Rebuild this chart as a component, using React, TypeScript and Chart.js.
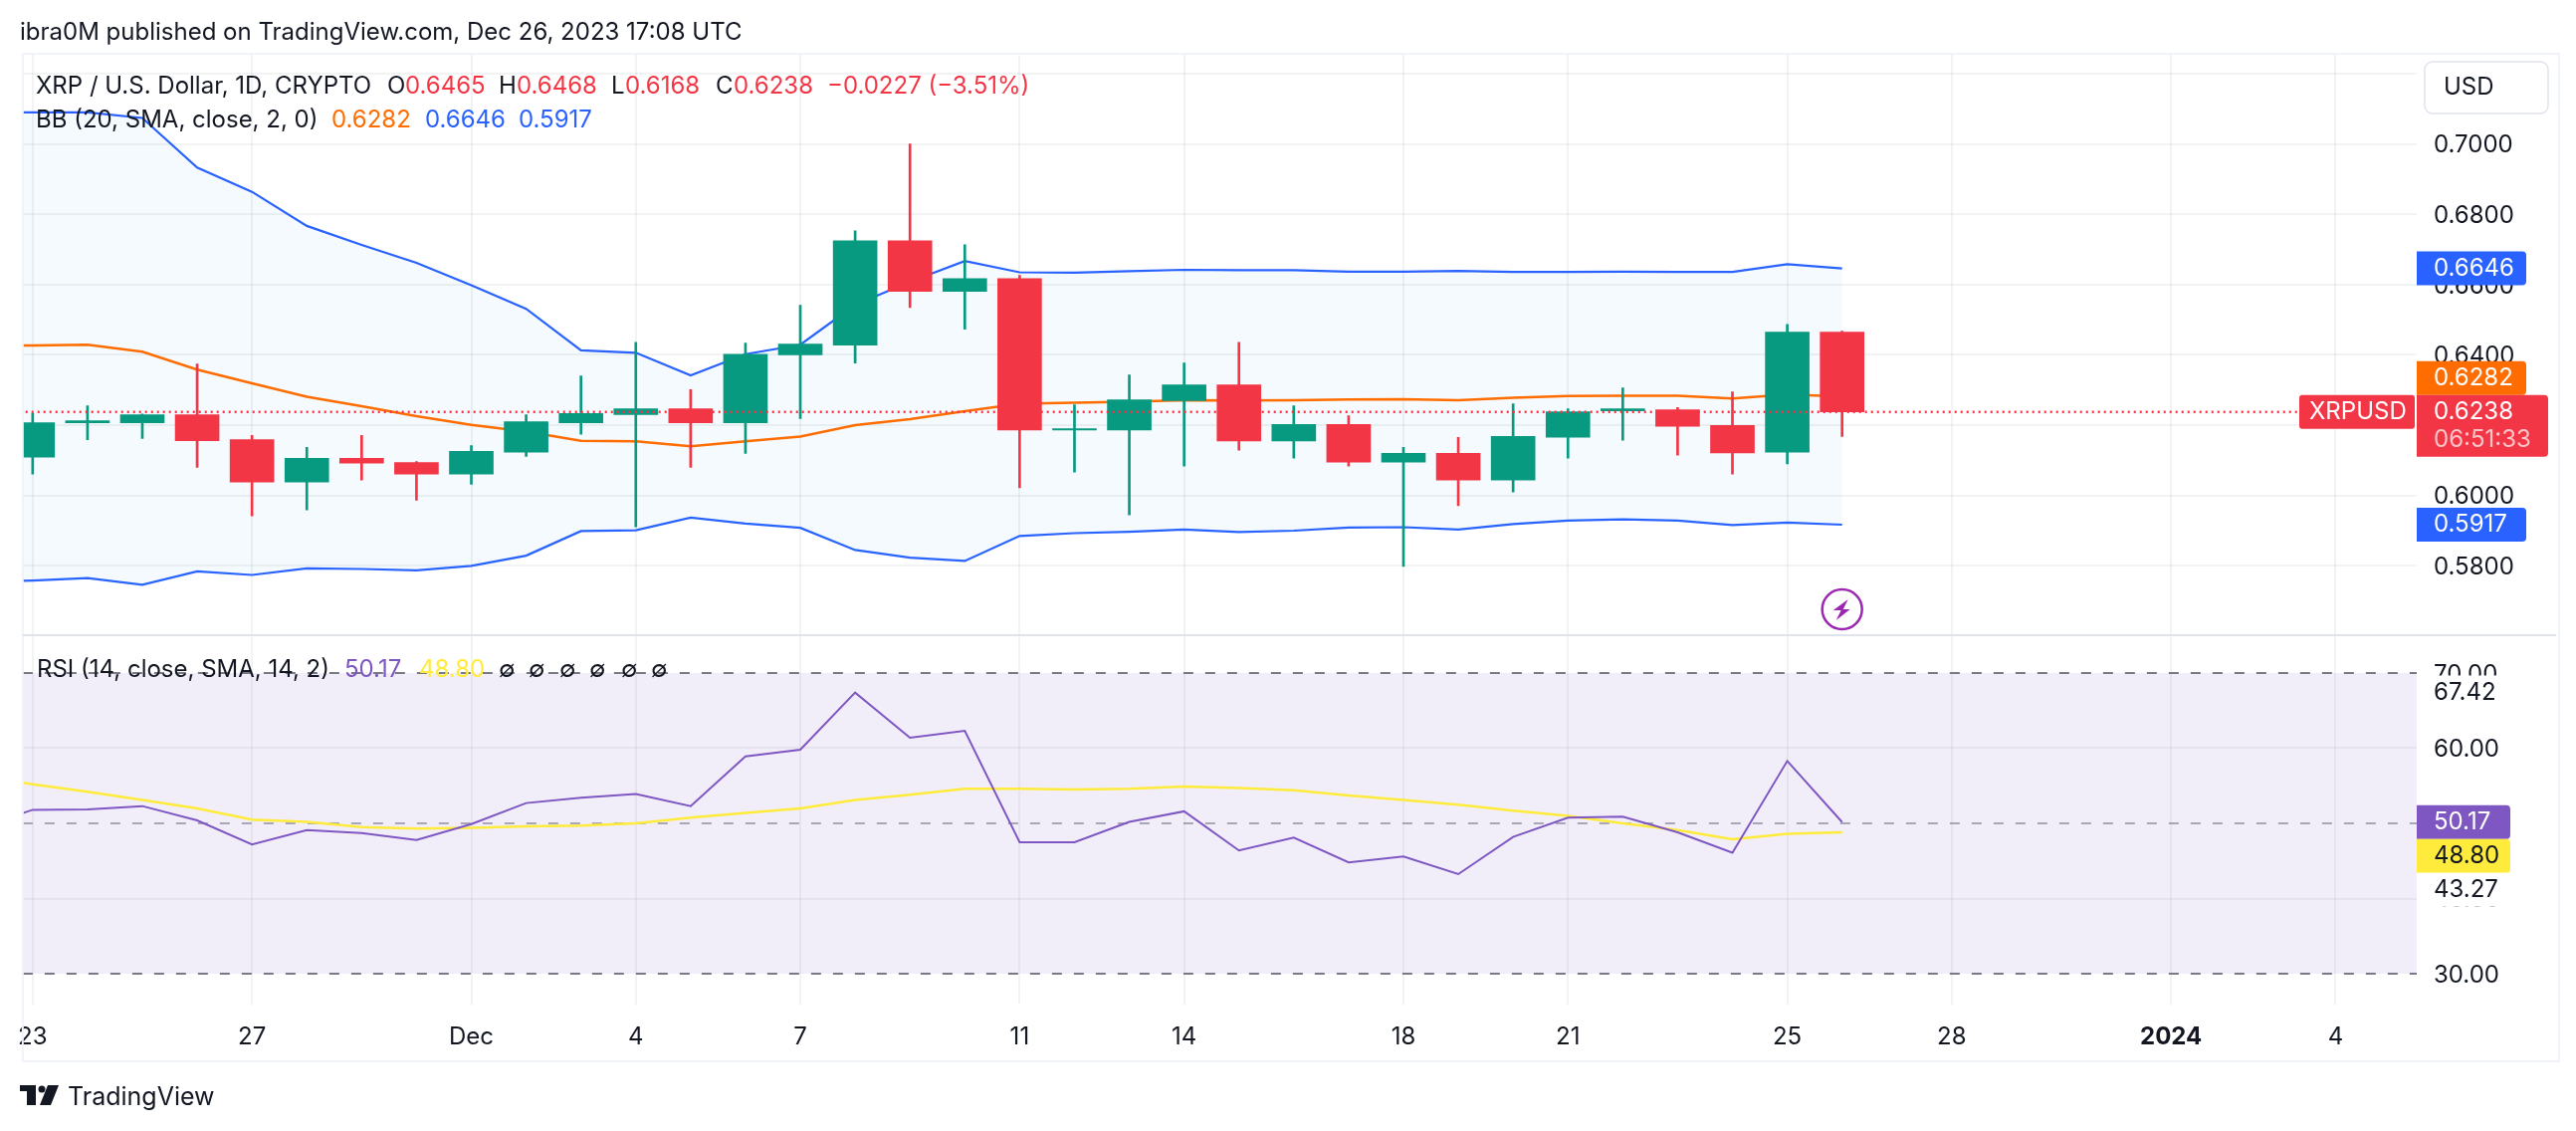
import React, { useEffect, useRef } from "react";
import { Chart, registerables } from "chart.js";

Chart.register(...registerables);

// ---- data ----
const candleDays = [0,1,2,3,4,5,6,7,8,9,10,11,12,13,14,15,16,17,18,19,20,21,22,23,24,25,26,27,28,29,30,31,32,33];
const opens  = [.6109,.6207,.6207,.6230,.6159,.6038,.6106,.6094,.6061,.6123,.6207,.6230,.6247,.6207,.6400,.6428,.6725,.6581,.6617,.6186,.6186,.6270,.6315,.6155,.6202,.6095,.6120,.6044,.6166,.6241,.6244,.6199,.6123,.6465];
const highs  = [.6234,.6255,.6232,.6374,.6171,.6137,.6171,.6097,.6142,.6230,.6340,.6436,.6301,.6434,.6541,.6753,.7000,.6713,.6626,.6258,.6343,.6377,.6436,.6255,.6227,.6137,.6165,.6261,.6247,.6306,.6250,.6295,.6487,.6468];
const lows   = [.6061,.6159,.6162,.6080,.5942,.5959,.6044,.5987,.6032,.6111,.6174,.5911,.6080,.6120,.6219,.6377,.6535,.6473,.6022,.6067,.5945,.6084,.6129,.6106,.6084,.5798,.5971,.6010,.6106,.6157,.6115,.6061,.6090,.6168];
const closes = [.6207,.6213,.6230,.6156,.6038,.6106,.6092,.6061,.6126,.6210,.6233,.6247,.6207,.6402,.6431,.6725,.6581,.6617,.6186,.6190,.6272,.6315,.6155,.6202,.6095,.6120,.6044,.6168,.6238,.6247,.6197,.6121,.6465,.6238];

const lineDays = [-1,...candleDays];
const bbUpper = [.7090,.7090,.7090,.7074,.6933,.6864,.6767,.6713,.6662,.6598,.6531,.6413,.6406,.6342,.6402,.6429,.6542,.6608,.6667,.6635,.6634,.6638,.6642,.6641,.6641,.6637,.6637,.6639,.6636,.6636,.6637,.6636,.6636,.6658,.6646];
const bbBasis = [.6425,.6427,.6429,.6409,.6358,.6319,.6281,.6254,.6226,.6201,.6182,.6156,.6154,.6140,.6154,.6168,.6200,.6217,.6240,.6261,.6264,.6267,.6271,.6270,.6271,.6273,.6274,.6271,.6278,.6283,.6284,.6284,.6276,.6287,.6282];
const bbLower = [.5754,.5758,.5765,.5746,.5784,.5774,.5793,.5791,.5787,.5800,.5829,.5899,.5901,.5937,.5920,.5908,.5845,.5823,.5814,.5885,.5893,.5897,.5903,.5896,.5900,.5909,.5910,.5903,.5919,.5929,.5932,.5929,.5916,.5923,.5917];
const rsiLine = [49.4,51.8,51.85,52.3,50.4,47.2,49.1,48.7,47.8,49.9,52.7,53.4,53.9,52.3,58.9,59.8,67.4,61.4,62.3,47.5,47.5,50.2,51.6,46.4,48.1,44.8,45.6,43.25,48.2,50.75,50.9,48.8,46.1,58.3,50.17];
const rsiMa   = [56.4,55.2,54.2,53.1,52.0,50.5,50.2,49.5,49.3,49.4,49.6,49.7,50.0,50.75,51.4,52.0,53.1,53.8,54.6,54.6,54.5,54.6,54.9,54.7,54.4,53.7,53.1,52.5,51.7,51.0,50.0,49.1,47.9,48.6,48.8];

const timeTickDays = [0,4,8,11,14,18,21,25,28,32,35,39,42];
const timeTickLabels = ["23","27","Dec","4","7","11","14","18","21","25","28","2024","4"];
const priceTicks = [.58,.60,.62,.64,.66,.68,.70,.72];
const rsiTicks = [30,40,50,60,70];

const lastClose = .6238;
const FONT = "Inter";
const INK = "#131722";
const GREEN = "#089981";
const RED = "#F23645";
const BLUE = "#2962FF";
const ORANGE = "#FF6D00";
const PURPLE = "#7E57C2";
const YELLOW = "#FFEB3B";
const GRID = "rgba(42,46,57,0.06)";
const GUIDE_DASH = { borderDash: [10, 12], borderDashOffset: 20.85 };

const pts = (days: number[], vals: number[]) => days.map((d, i) => ({ x: d, y: vals[i] }));
const flat = (v: number, to = 44) => [{ x: -1, y: v }, { x: to, y: v }];

const LEGEND_SIZE = 24;
const AXIS_SIZE = 24;

function text(c: CanvasRenderingContext2D, s: string, x: number, y: number, color: string, size = LEGEND_SIZE, weight = "400") {
  c.font = `${weight} ${size}px ${FONT}`;
  c.fillStyle = color;
  c.textAlign = "left";
  c.textBaseline = "middle";
  c.fillText(s, x, y + 1);
}

function tag(c: CanvasRenderingContext2D, x: number, y: number, w: number, h: number, color: string) {
  c.fillStyle = color;
  c.beginPath();
  c.roundRect(x, y, w, h, [0, 4, 4, 0]);
  c.fill();
}

const overlay = {
  id: "overlay",
  afterDraw(chart: any) {
    const c: CanvasRenderingContext2D = chart.ctx;
    const py = chart.scales.y;
    const ry = chart.scales.rsi;
    const x = chart.scales.x;
    const left = chart.chartArea.left;
    const axisX = chart.chartArea.right;
    c.save();

    // frame and pane separator
    c.strokeStyle = "#F0F3FA";
    c.lineWidth = 2;
    c.strokeRect(left, 54, 2548, 1012);
    c.strokeStyle = "#E0E3EB";
    c.beginPath();
    c.moveTo(left, py.bottom);
    c.lineTo(2568, py.bottom);
    c.stroke();

    // header
    text(c, "ibra0M published on TradingView.com, Dec 26, 2023 17:08 UTC", 20, 32, INK);

    // legends
    text(c, "XRP / U.S. Dollar, 1D, CRYPTO", 36, 85.5, INK);
    const ohlc: [string, string, number, number][] = [
      ["O", "0.6465", 389, 407], ["H", "0.6468", 501, 519], ["L", "0.6168", 614, 628], ["C", "0.6238", 719, 737],
    ];
    ohlc.forEach(([a, b, xa, xb]) => { text(c, a, xa, 85.5, INK); text(c, b, xb, 85.5, RED); });
    text(c, "\u22120.0227 (\u22123.51%)", 831, 85.5, RED);

    text(c, "BB (20, SMA, close, 2, 0)", 36, 120, INK);
    text(c, "0.6282", 333, 120, ORANGE);
    text(c, "0.6646", 427, 120, BLUE);
    text(c, "0.5917", 521, 120, BLUE);

    text(c, "RSI (14, close, SMA, 14, 2)", 37, 672, INK);
    text(c, "50.17", 346, 672, PURPLE);
    text(c, "48.80", 421, 672, YELLOW);
    [501, 531, 562, 592, 624, 654].forEach((vx) => text(c, "\u2205", vx, 672, INK));

    // price axis button
    c.fillStyle = "#fff";
    c.strokeStyle = "#E0E3EB";
    c.lineWidth = 1.5;
    c.beginPath();
    c.roundRect(2436, 62, 124, 52, 8);
    c.fill();
    c.stroke();
    text(c, "USD", 2455, 87, INK, AXIS_SIZE);

    // price tags
    const H = 34;
    const tx = axisX + 17;
    const lastY = py.getPixelForValue(lastClose);
    const tagTop = lastY - 17;
    tag(c, axisX, py.getPixelForValue(.6646) - 17, 110, H, BLUE);
    text(c, "0.6646", tx, py.getPixelForValue(.6646) - 1, "#fff", AXIS_SIZE);
    tag(c, axisX, tagTop - H, 110, H, ORANGE);
    text(c, "0.6282", tx, tagTop - 18, "#fff", AXIS_SIZE);
    tag(c, axisX, tagTop, 132, 62, RED);
    text(c, "0.6238", tx, lastY - 1, "#fff", AXIS_SIZE);
    text(c, "06:51:33", tx, lastY + 27, "rgba(255,255,255,0.7)", AXIS_SIZE);
    tag(c, axisX, py.getPixelForValue(.5917) - 17, 110, H, BLUE);
    text(c, "0.5917", tx, py.getPixelForValue(.5917) - 1, "#fff", AXIS_SIZE);
    c.fillStyle = RED;
    c.beginPath();
    c.roundRect(2310, tagTop, 116, H, 3);
    c.fill();
    text(c, "XRPUSD", 2320, lastY - 1, "#fff", AXIS_SIZE);

    // rsi tags
    const rsiY = ry.getPixelForValue(50.17);
    c.fillStyle = "#fff";
    const maxY = ry.getPixelForValue(67.42);
    c.fillRect(axisX, maxY - 17, 92, H);
    text(c, "67.42", tx, maxY - 1, INK, AXIS_SIZE);
    tag(c, axisX, rsiY - 17, 94, H, PURPLE);
    text(c, "50.17", tx, rsiY - 1, "#fff", AXIS_SIZE);
    tag(c, axisX, rsiY + 17, 94, H, YELLOW);
    text(c, "48.80", tx, rsiY + H - 1, INK, AXIS_SIZE);
    c.fillStyle = "#fff";
    c.fillRect(axisX, rsiY + 17 + H, 92, H);
    text(c, "43.27", tx, rsiY + 17 + H + 16, INK, AXIS_SIZE);

    // flash marker below the last bar
    const bx = x.getPixelForValue(33);
    const by = 612;
    c.strokeStyle = "#9C27B0";
    c.lineWidth = 2.5;
    c.beginPath();
    c.arc(bx, by, 20, 0, Math.PI * 2);
    c.stroke();
    c.fillStyle = "#9C27B0";
    c.beginPath();
    c.moveTo(bx + 6, by - 10);
    c.lineTo(bx - 9, by + 1);
    c.lineTo(bx - 1, by + 1);
    c.lineTo(bx - 6, by + 11);
    c.lineTo(bx + 8, by);
    c.lineTo(bx + 1, by);
    c.closePath();
    c.fill();

    // brand
    c.fillStyle = "#131722";
    c.fillRect(20, 1090, 16, 6);
    c.fillRect(27, 1090, 9, 20);
    c.beginPath();
    c.arc(42, 1094, 3.5, 0, Math.PI * 2);
    c.fill();
    c.beginPath();
    c.moveTo(48, 1090);
    c.lineTo(59, 1090);
    c.lineTo(51, 1110);
    c.lineTo(40, 1110);
    c.closePath();
    c.fill();
    text(c, "TradingView", 68, 1101, INK, 25);
    c.restore();
  },
};

export default function App() {
  const ref = useRef<HTMLCanvasElement>(null);
  useEffect(() => {
    document.body.style.margin = "0";
    const ctx = ref.current!.getContext("2d")!;
    const colors = candleDays.map((_, i) => (closes[i] >= opens[i] ? GREEN : RED));
    const line = (label: string, data: any[], color: string, width: number, order: number, yAxisID: string, extra: any = {}) => ({
      type: "line" as const, label, data, borderColor: color, borderWidth: width, pointRadius: 0, tension: 0, order, yAxisID, fill: false, ...extra,
    });
    const chart = new Chart(ctx, {
      type: "bar",
      data: {
        datasets: [
          line("Last", flat(lastClose, 41.34), RED, 2.5, 1, "y", { borderDash: [2, 4] }),
          { type: "bar", label: "Body", data: candleDays.map((d, i) => ({ x: d, y: [opens[i], closes[i]] })), backgroundColor: colors, barThickness: 44, borderSkipped: false, borderWidth: 0, grouped: false, order: 2, yAxisID: "y" } as any,
          { type: "bar", label: "Wick", data: candleDays.map((d, i) => ({ x: d, y: [lows[i], highs[i]] })), backgroundColor: colors, barThickness: 2, borderSkipped: false, borderWidth: 0, grouped: false, order: 3, yAxisID: "y" } as any,
          line("BB basis", pts(lineDays, bbBasis), ORANGE, 2.5, 4, "y"),
          line("BB upper", pts(lineDays, bbUpper), BLUE, 2.2, 5, "y", { fill: { target: 5 }, backgroundColor: "rgba(33,150,243,0.05)" }),
          line("BB lower", pts(lineDays, bbLower), BLUE, 2.2, 5, "y"),
          line("RSI", pts(lineDays, rsiLine), PURPLE, 2, 1, "rsi"),
          line("RSI MA", pts(lineDays, rsiMa), YELLOW, 2.5, 2, "rsi"),
          line("Upper band", flat(70), "#787B86", 2, 6, "rsi", { ...GUIDE_DASH, fill: { target: 10 }, backgroundColor: "rgba(126,87,194,0.1)" }),
          line("Middle band", flat(50), "rgba(120,123,134,0.6)", 2, 6, "rsi", GUIDE_DASH),
          line("Lower band", flat(30), "#787B86", 2, 6, "rsi", GUIDE_DASH),
        ] as any,
      },
      options: {
        animation: false,
        responsive: false,
        devicePixelRatio: 1,
        layout: { padding: { left: 20, top: 54, right: 20, bottom: 70 } },
        plugins: { legend: { display: false }, tooltip: { enabled: false } },
        scales: {
          x: {
            type: "linear",
            offset: false,
            min: -0.181,
            max: 43.48,
            border: { display: false },
            grid: { color: GRID, lineWidth: 2, drawTicks: false, offset: false },
            afterBuildTicks: (s: any) => { s.ticks = timeTickDays.map((value) => ({ value })); },
            afterFit: (s: any) => { s.height = 57; },
            ticks: {
              autoSkip: false,
              maxRotation: 0,
              padding: 18,
              color: INK,
              font: (c: any) => ({ family: FONT, size: AXIS_SIZE, weight: c.tick && c.tick.value === 39 ? "bold" : "normal" }),
              callback: (v: any) => timeTickLabels[timeTickDays.indexOf(v)],
            },
          },
          y: {
            type: "linear",
            position: "right",
            stack: "panes",
            stackWeight: 584,
            min: 0.56027,
            max: 0.72566,
            border: { display: false },
            grid: { color: GRID, lineWidth: 2, drawTicks: false },
            afterBuildTicks: (s: any) => { s.ticks = priceTicks.map((value) => ({ value })); },
            afterFit: (s: any) => { s.width = 140; },
            ticks: {
              padding: 17,
              labelOffset: 1.5,
              crossAlign: "near",
              color: INK,
              font: { family: FONT, size: AXIS_SIZE },
              callback: (v: any) => Number(v).toFixed(4),
            },
          },
          rsi: {
            type: "linear",
            position: "right",
            stack: "panes",
            stackWeight: 371,
            min: 25.9,
            max: 75.03,
            border: { display: false },
            grid: { color: (c: any) => (c.tick && (c.tick.value === 40 || c.tick.value === 60) ? GRID : "rgba(0,0,0,0)"), lineWidth: 2, drawTicks: false },
            afterBuildTicks: (s: any) => { s.ticks = rsiTicks.map((value) => ({ value })); },
            afterFit: (s: any) => { s.width = 140; },
            ticks: {
              padding: 17,
              labelOffset: 1.5,
              crossAlign: "near",
              color: INK,
              font: { family: FONT, size: AXIS_SIZE },
              callback: (v: any) => Number(v).toFixed(2),
            },
          },
        },
      },
      plugins: [overlay],
    } as any);
    return () => chart.destroy();
  }, []);
  return <canvas ref={ref} width={2588} height={1136} style={{ display: "block" }} />;
}
